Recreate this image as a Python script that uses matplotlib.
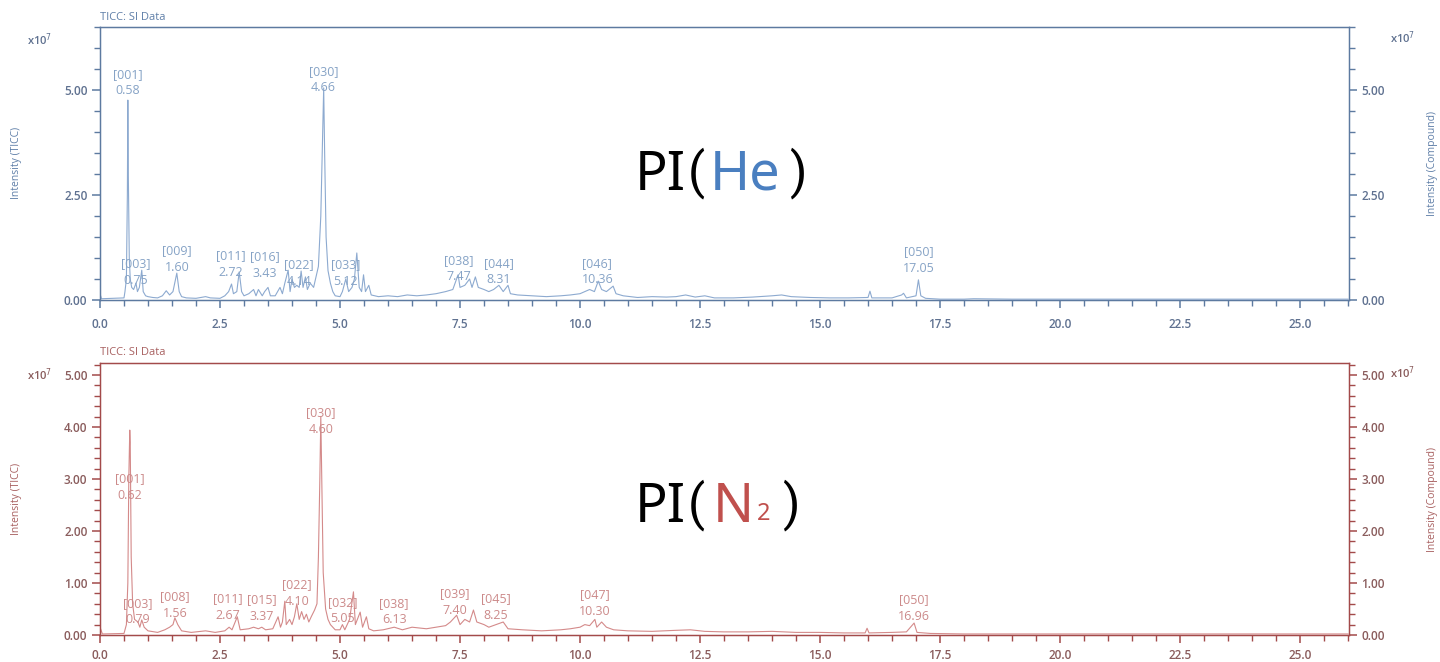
import matplotlib
matplotlib.use("Agg")
import matplotlib.pyplot as plt
from matplotlib.ticker import MultipleLocator, FormatStrFormatter
from matplotlib.textpath import TextPath
from matplotlib.font_manager import FontProperties

# ---------------- data ----------------
he_time = [0.0, 0.03, 0.5, 0.52, 0.55, 0.57, 0.58, 0.59, 0.61, 0.63, 0.66, 0.7, 0.75, 0.78, 0.82, 0.87, 0.9,
           0.95, 1.0, 1.1, 1.2, 1.3, 1.38, 1.45, 1.52, 1.6, 1.65, 1.7, 1.8, 2.0, 2.2, 2.3, 2.5, 2.6, 2.68,
           2.74, 2.78, 2.85, 2.9, 2.95, 3.0, 3.1, 3.2, 3.25, 3.3, 3.38, 3.43, 3.5, 3.55, 3.65, 3.75, 3.8,
           3.85, 3.92, 3.96, 4.0, 4.05, 4.1, 4.15, 4.19, 4.23, 4.28, 4.32, 4.38, 4.45, 4.5, 4.55, 4.6, 4.63,
           4.66, 4.68, 4.71, 4.75, 4.8, 4.85, 4.9, 5.0, 5.05, 5.12, 5.18, 5.25, 5.3, 5.35, 5.4, 5.45, 5.49,
           5.53, 5.6, 5.65, 5.8, 6.0, 6.2, 6.4, 6.6, 6.8, 7.0, 7.2, 7.35, 7.46, 7.5, 7.6, 7.7, 7.75, 7.82,
           7.88, 8.0, 8.1, 8.2, 8.31, 8.4, 8.5, 8.55, 8.7, 9.0, 9.3, 9.6, 9.8, 10.0, 10.1, 10.2, 10.3, 10.38,
           10.45, 10.55, 10.69, 10.75, 10.9, 11.2, 11.5, 11.8, 12.0, 12.2, 12.4, 12.6, 12.8, 13.2, 13.6,
           14.0, 14.2, 14.4, 14.8, 15.2, 15.6, 16.0, 16.04, 16.08, 16.5, 16.7, 16.74, 16.8, 17.0, 17.05, 17.1,
           17.2, 17.5, 18.0, 18.2, 19.0, 20.0, 22.0, 24.0, 26.0]
he_int = [0.15, 0.03, 0.05, 0.2, 0.5, 2.5, 4.76, 3.0, 1.0, 0.5, 0.3, 0.25, 0.4, 0.2, 0.3, 0.71, 0.2,
          0.1, 0.08, 0.06, 0.05, 0.1, 0.22, 0.12, 0.2, 0.64, 0.2, 0.08, 0.05, 0.04, 0.08, 0.05, 0.04, 0.1, 0.2,
          0.38, 0.15, 0.2, 0.67, 0.2, 0.1, 0.15, 0.25, 0.1, 0.25, 0.1, 0.2, 0.3, 0.1, 0.1, 0.3, 0.15,
          0.4, 0.71, 0.2, 0.5, 0.3, 0.35, 0.3, 0.69, 0.3, 0.55, 0.25, 0.4, 0.3, 0.55, 0.8, 2.0, 3.5,
          5.05, 3.5, 1.5, 0.7, 0.4, 0.2, 0.1, 0.08, 0.2, 0.5, 0.2, 0.3, 0.5, 1.12, 0.3, 0.2, 0.6,
          0.2, 0.35, 0.12, 0.08, 0.1, 0.08, 0.12, 0.1, 0.12, 0.15, 0.2, 0.25, 0.6, 0.3, 0.35, 0.5, 0.3, 0.55,
          0.3, 0.25, 0.2, 0.25, 0.35, 0.2, 0.35, 0.15, 0.12, 0.1, 0.08, 0.1, 0.12, 0.15, 0.2, 0.25, 0.2, 0.45,
          0.25, 0.2, 0.33, 0.15, 0.1, 0.06, 0.08, 0.07, 0.08, 0.12, 0.07, 0.1, 0.05, 0.05, 0.07,
          0.1, 0.12, 0.08, 0.06, 0.05, 0.05, 0.06, 0.21, 0.05, 0.05, 0.12, 0.16, 0.05, 0.1, 0.48, 0.1,
          0.04, 0.02, 0.02, 0.03, 0.02, 0.02, 0.02, 0.02, 0.02]

n2_time = [0.0, 0.05, 0.5, 0.55, 0.58, 0.6, 0.62, 0.63, 0.65, 0.68, 0.72, 0.79, 0.83, 0.87, 0.92, 1.0, 1.2,
           1.35, 1.45, 1.52, 1.56, 1.62, 1.7, 1.9, 2.2, 2.4, 2.6, 2.69, 2.75, 2.86, 2.92, 3.1, 3.2, 3.3,
           3.37, 3.45, 3.6, 3.71, 3.76, 3.8, 3.85, 3.88, 3.95, 4.0, 4.05, 4.1, 4.15, 4.2, 4.25, 4.3, 4.35,
           4.4, 4.47, 4.52, 4.55, 4.58, 4.6, 4.62, 4.65, 4.7, 4.75, 4.8, 4.9, 5.0, 5.05, 5.1, 5.2, 5.28,
           5.32, 5.42, 5.47, 5.55, 5.6, 5.7, 5.9, 6.13, 6.3, 6.5, 6.8, 7.0, 7.2, 7.3, 7.43, 7.5, 7.6, 7.7,
           7.78, 7.85, 8.0, 8.1, 8.25, 8.4, 8.5, 8.8, 9.2, 9.6, 9.8, 10.0, 10.1, 10.2, 10.31, 10.35, 10.45,
           10.55, 10.7, 11.0, 11.5, 12.0, 12.3, 12.6, 13.0, 13.5, 14.0, 14.5, 15.0, 15.5, 15.94, 15.98, 16.02,
           16.5, 16.8, 16.96, 17.02, 17.3, 18.0, 26.0]
n2_int = [0.15, 0.02, 0.03, 0.2, 1.0, 3.0, 3.94, 3.7, 1.5, 0.6, 0.3, 0.25, 0.15, 0.29, 0.15, 0.08, 0.05,
          0.1, 0.15, 0.2, 0.33, 0.2, 0.08, 0.05, 0.08, 0.05, 0.08, 0.15, 0.1, 0.35, 0.1, 0.12, 0.15, 0.12,
          0.15, 0.1, 0.12, 0.35, 0.15, 0.25, 0.65, 0.2, 0.3, 0.2, 0.35, 0.6, 0.3, 0.45, 0.3, 0.4, 0.25,
          0.35, 0.48, 0.6, 1.5, 3.0, 4.2, 3.0, 1.2, 0.5, 0.3, 0.2, 0.1, 0.1, 0.2, 0.1, 0.3, 0.83,
          0.2, 0.44, 0.15, 0.35, 0.12, 0.08, 0.1, 0.15, 0.1, 0.15, 0.12, 0.15, 0.18, 0.25, 0.38, 0.2, 0.3, 0.25,
          0.48, 0.25, 0.2, 0.15, 0.2, 0.25, 0.12, 0.1, 0.08, 0.1, 0.12, 0.15, 0.2, 0.18, 0.3, 0.15, 0.25,
          0.15, 0.1, 0.08, 0.07, 0.09, 0.1, 0.07, 0.06, 0.06, 0.07, 0.05, 0.05, 0.04, 0.04, 0.13, 0.04,
          0.05, 0.06, 0.23, 0.05, 0.03, 0.02, 0.02]

he_ids = ["001", "030", "003", "009", "011", "016", "022", "033", "038", "044", "046", "050"]
he_rts = [0.58, 4.66, 0.75, 1.60, 2.72, 3.43, 4.14, 5.12, 7.47, 8.31, 10.36, 17.05]
he_label_y = [4.83, 4.90, 0.31, 0.62, 0.50, 0.48, 0.29, 0.29, 0.40, 0.33, 0.33, 0.60]

n2_ids = ["001", "030", "003", "008", "011", "015", "022", "032", "038", "039", "045", "047", "050"]
n2_rts = [0.62, 4.60, 0.79, 1.56, 2.67, 3.37, 4.10, 5.05, 6.13, 7.40, 8.25, 10.30, 16.96]
n2_label_y = [2.56, 3.83, 0.17, 0.29, 0.25, 0.23, 0.52, 0.19, 0.17, 0.35, 0.25, 0.33, 0.23]

x_max = 26.02
# ----------------------------------------------------------------

W, H = 1440, 662
DPI = 100
fig = plt.figure(figsize=(W / DPI, H / DPI), dpi=DPI)
fig.patch.set_facecolor("white")

TICK_FONT = "Open Sans"


def fx(px):
    return px / W


def fy(py):
    return 1 - py / H


def style_panel(ax, ymax, ymajor, yminor, spine_c, tick_c, ann_c, line_c,
                t, v, ids, rts, label_y, xpad):
    ax.plot(t, v, color=line_c, lw=0.8, zorder=2)
    ax.set_xlim(0, x_max)
    ax.set_ylim(0, ymax)
    ax.xaxis.set_major_locator(MultipleLocator(2.5))
    ax.xaxis.set_minor_locator(MultipleLocator(0.5))
    ax.xaxis.set_major_formatter(FormatStrFormatter("%.1f"))
    ax.yaxis.set_major_locator(MultipleLocator(ymajor))
    ax.yaxis.set_minor_locator(MultipleLocator(yminor))
    ax.yaxis.set_major_formatter(FormatStrFormatter("%.2f"))
    for s in ax.spines.values():
        s.set_color(spine_c)
        s.set_linewidth(1.0)
    ax.tick_params(axis="both", which="major", direction="out", length=6, width=1.1,
                   color=spine_c, labelcolor=tick_c, labelsize=8.5, pad=3)
    ax.tick_params(axis="both", which="minor", direction="out", length=4, width=1.0,
                   color=spine_c)
    for lab in ax.get_xticklabels() + ax.get_yticklabels():
        lab.set_fontfamily(TICK_FONT)
        lab.set_fontweight("semibold")
    ax.tick_params(axis="x", pad=xpad)
    for i, rt, ly in zip(ids, rts, label_y):
        ax.text(rt, ly, f"[{i}]\n{rt:.2f}", ha="center", va="bottom", color=ann_c,
                fontsize=9, family="Open Sans", linespacing=1.35, zorder=3)
    # right-hand axis (Intensity (Compound))
    axr = ax.twinx()
    axr.set_ylim(0, ymax)
    axr.yaxis.set_major_locator(MultipleLocator(ymajor))
    axr.yaxis.set_minor_locator(MultipleLocator(yminor))
    axr.yaxis.set_major_formatter(FormatStrFormatter("%.2f"))
    for s in axr.spines.values():
        s.set_color(spine_c)
    axr.tick_params(axis="y", which="major", direction="out", length=6, width=1.1,
                    color=spine_c, labelcolor=tick_c, labelsize=8.5, pad=3)
    axr.tick_params(axis="y", which="minor", direction="out", length=4, width=1.0,
                    color=spine_c)
    for lab in axr.get_yticklabels():
        lab.set_fontfamily(TICK_FONT)
        lab.set_fontweight("semibold")
    return axr


ax1 = fig.add_axes([fx(100), fy(300), fx(1349 - 100), (300 - 27) / H])
ax2 = fig.add_axes([fx(100), fy(635), fx(1349 - 100), (635 - 363) / H])

blue_spine, blue_tick, blue_lab, blue_ann, blue_line = "#5d7aa0", "#5f7190", "#5f7fa8", "#86a3c6", "#8daad0"
red_spine, red_tick, red_lab, red_ann, red_line = "#a34a4a", "#8a5c5c", "#a86060", "#cc8a8a", "#d48a8a"

style_panel(ax1, 6.5, 2.5, 0.5, blue_spine, blue_tick, blue_ann, blue_line,
            he_time, he_int, he_ids, he_rts, he_label_y, 7)
style_panel(ax2, 5.23, 1.0, 0.2, red_spine, red_tick, red_ann, red_line,
            n2_time, n2_int, n2_ids, n2_rts, n2_label_y, 4)

# captions and axis titles
for (ytitle, yexp_l, yexp_r, ymid, col, tcol) in [
        (17, 40, 38, 163, blue_lab, blue_tick), (353, 375, 373, 499, red_lab, red_tick)]:
    fig.text(fx(100), fy(ytitle), "TICC: SI Data", ha="left", va="center", fontsize=8,
             color=col, family="Open Sans")
    fig.text(fx(40), fy(yexp_l), r"x10$^7$", ha="center", va="center", fontsize=8,
             color=tcol, family="Open Sans", fontweight="semibold")
    fig.text(fx(1403), fy(yexp_r), r"x10$^7$", ha="center", va="center", fontsize=8,
             color=tcol, family="Open Sans", fontweight="semibold")
    fig.text(fx(16), fy(ymid), "Intensity (TICC)", rotation=90, ha="center", va="center",
             fontsize=7.5, color=col, family="Open Sans")
    fig.text(fx(1432), fy(ymid), "Intensity (Compound)", rotation=90, ha="center", va="center",
             fontsize=7.5, color=col, family="Open Sans")


# big sample names: each piece placed so that its ink starts at the reference's pixel position
def piece(ink_left_px, base_px, txt, col, size, family, weight="normal"):
    fp = FontProperties(family=family, size=size, weight=weight)
    x0_pt = TextPath((0, 0), txt, size=size, prop=fp).get_extents().x0
    x_px = ink_left_px - x0_pt * DPI / 72.0
    fig.text(fx(x_px), fy(base_px), txt, color=col, fontsize=size,
             family=[family, "DejaVu Sans"], fontweight=weight, ha="left", va="baseline")


piece(640, 190, "PI", "black", 39, "Noto Sans")
piece(691, 187, "(", "black", 36, "Roboto")
piece(715, 190, "He", "#4a7fc0", 39, "Noto Sans")
piece(791, 187, ")", "black", 36, "Roboto")

piece(640, 522, "PI", "black", 39, "Noto Sans")
piece(691, 519, "(", "black", 36, "Roboto")
piece(718, 522, "N", "#c0504d", 39, "Noto Sans")
piece(758, 520, "2", "#c0504d", 17, "Noto Sans")
piece(784, 519, ")", "black", 36, "Roboto")

fig.savefig("out.png", dpi=DPI)
